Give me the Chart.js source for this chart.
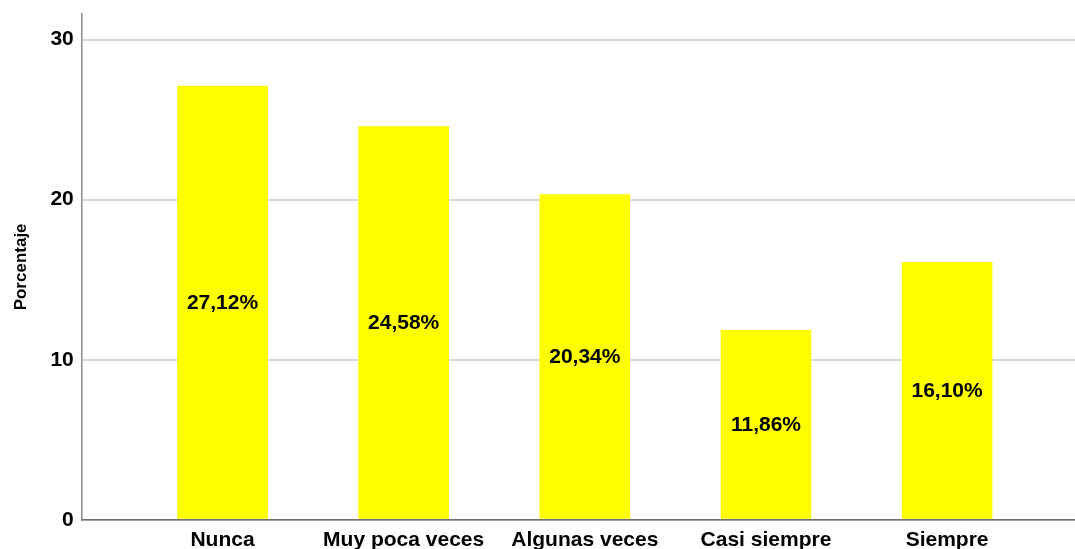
<!DOCTYPE html>
<html>
<head>
<meta charset="utf-8">
<script src="https://cdn.jsdelivr.net/npm/chart.js@4/dist/chart.umd.min.js"></script>
<style>
  html, body { margin: 0; padding: 0; background: #fff; }
  #wrap { width: 1075px; height: 549px; }
</style>
</head>
<body>
<div id="wrap"><canvas id="grafico"></canvas></div>
<script>
// --- DATOS ---
const categorias = ['Nunca', 'Muy poca veces', 'Algunas veces', 'Casi siempre', 'Siempre'];
const porcentajes = [27.12, 24.58, 20.34, 11.86, 16.10];
const ticksY = [0, 10, 20, 30];

const fuente = "'Liberation Sans', Arial, sans-serif";

// etiquetas dentro de las barras
const etiquetasBarras = {
    id: 'etiquetasBarras',
    afterDatasetsDraw(chart) {
        const ctx = chart.ctx;
        const meta = chart.getDatasetMeta(0);
        ctx.save();
        ctx.font = 'bold 21px ' + fuente;
        ctx.fillStyle = '#000';
        ctx.textAlign = 'center';
        ctx.textBaseline = 'middle';
        meta.data.forEach((bar, i) => {
            const texto = porcentajes[i].toFixed(2).replace('.', ',') + '%';
            ctx.fillText(texto, bar.x, (bar.y + bar.base) / 2 + 1);
        });
        ctx.restore();
    }
};

const ctx = document.getElementById('grafico').getContext('2d');
new Chart(ctx, {
    type: 'bar',
    data: {
        datasets: [{
            data: porcentajes.map((v, i) => ({ x: i, y: v })),
            backgroundColor: '#ffff00',
            borderWidth: 0,
            barPercentage: 0.5,
            categoryPercentage: 1
        }]
    },
    options: {
        responsive: true,
        maintainAspectRatio: false,
        animation: false,
        layout: { padding: { top: 14, right: 0, bottom: -12, left: 0 } },
        plugins: {
            legend: { display: false },
            tooltip: { enabled: false }
        },
        scales: {
            x: {
                type: 'linear',
                offset: false,
                min: -0.777,
                max: 4.706,
                afterBuildTicks: axis => {
                    axis.ticks = categorias.map((c, i) => ({ value: i }));
                },
                grid: { display: false, drawTicks: false },
                border: { display: true, color: '#6e6e6e', width: 1.5 },
                ticks: {
                    autoSkip: false,
                    maxRotation: 0,
                    padding: 8,
                    color: '#000',
                    font: { family: fuente, size: 21, weight: 'bold' },
                    callback: v => categorias[v]
                }
            },
            y: {
                min: 0,
                max: 31.6,
                afterBuildTicks: axis => {
                    axis.ticks = ticksY.map(v => ({ value: v }));
                },
                afterFit: axis => { axis.paddingTop = 0; },
                grid: { color: '#d9d9d9', lineWidth: 2, drawTicks: false },
                border: { display: true, color: '#8a8a8a', width: 1.5 },
                ticks: {
                    padding: 8,
                    color: '#000',
                    font: { family: fuente, size: 21, weight: 'bold' }
                },
                title: {
                    display: true,
                    text: 'Porcentaje',
                    color: '#000',
                    font: { family: fuente, size: 17, weight: 'bold' },
                    padding: { top: 11, bottom: 11 }
                }
            }
        }
    },
    plugins: [etiquetasBarras]
});
</script>
</body>
</html>
